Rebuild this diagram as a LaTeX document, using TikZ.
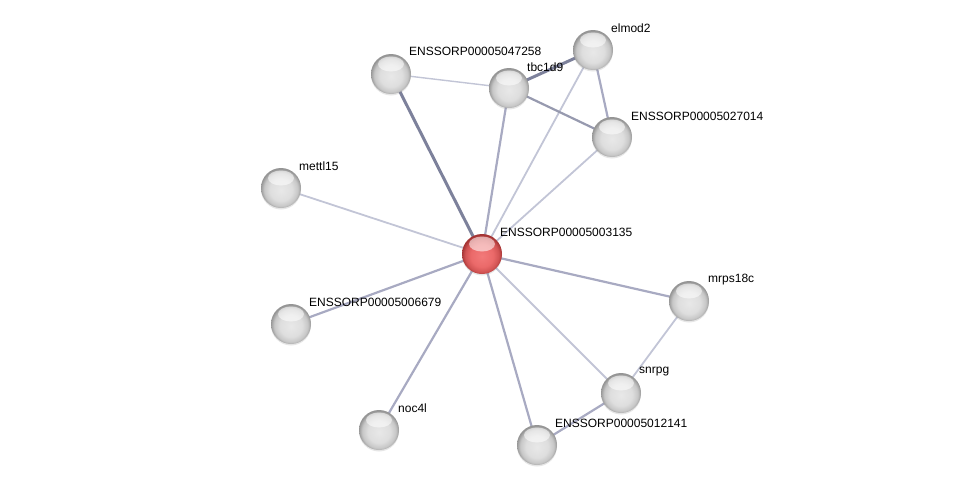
\documentclass[tikz,border=0pt]{standalone}
\usepackage{fontspec}
\setmainfont{Liberation Sans}
\usetikzlibrary{backgrounds,shadows}
\definecolor{edgedark}{RGB}{125,129,155}
\definecolor{edgemid}{RGB}{168,170,194}
\definecolor{edgelight}{RGB}{194,197,214}
\pgfdeclareradialshading{greyball}{\pgfpoint{0bp}{-3bp}}{color(0bp)=(black!9); color(14bp)=(black!13); color(21bp)=(black!22); color(25.5bp)=(black!42); color(50bp)=(black!42)}
\pgfdeclareradialshading{redball}{\pgfpoint{0bp}{-3bp}}{color(0bp)=(red!50!white!95!black); color(14bp)=(red!55!white!92!black); color(21bp)=(red!60!white!82!black); color(25.5bp)=(red!55!black!80!white); color(50bp)=(red!55!black!80!white)}
\begin{document}
\begin{tikzpicture}[x=1pt,y=-1pt,
    prot/.style={circle,minimum size=40pt,inner sep=0pt,shading=greyball,
        drop shadow={opacity=0.2,shadow xshift=0pt,shadow yshift=-1.5pt},
        path picture={\fill[white,opacity=0.55] ([yshift=10pt]path picture bounding box.center) ellipse (13pt and 7.5pt);}},
    hub/.style={prot,shading=redball},
    lbl/.style={anchor=west,inner sep=0pt,font=\fontsize{12}{14}\selectfont},
    strong/.style={draw=edgedark,line width=3pt},
    medium/.style={draw=edgemid,line width=2.2pt},
    weak/.style={draw=edgelight,line width=1.8pt}]
    \useasboundingbox (0,0) rectangle (975,490);
    % proteins
    \node[hub] (c) at (482,254) {};
    \node[prot] (p47258) at (391,74) {};
    \node[prot] (tbc) at (509,88) {};
    \node[prot] (elmod) at (593,50) {};
    \node[prot] (p27014) at (612,137) {};
    \node[prot] (mettl) at (281,188) {};
    \node[prot] (mrps) at (689,301) {};
    \node[prot] (p6679) at (291,324) {};
    \node[prot] (snrpg) at (621,393) {};
    \node[prot] (noc) at (379,430) {};
    \node[prot] (p12141) at (537,445) {};
    % names
    \node[lbl] (l47258) at (409,51) {ENSSORP00005047258};
    \node[lbl] (ltbc) at (527,67) {tbc1d9};
    \node[lbl] (lelmod) at (611,28) {elmod2};
    \node[lbl] (l27014) at (631,116) {ENSSORP00005027014};
    \node[lbl] (lmettl) at (299,166) {mettl15};
    \node[lbl] (lc) at (500,232) {ENSSORP00005003135};
    \node[lbl] (lmrps) at (708,280) {mrps18c};
    \node[lbl] (l6679) at (309,302) {ENSSORP00005006679};
    \node[lbl] (lsnrpg) at (639,372) {snrpg};
    \node[lbl] (lnoc) at (398,408) {noc4l};
    \node[lbl] (l12141) at (555,423) {ENSSORP00005012141};
    % links
    \begin{scope}[on background layer]
        \draw[strong] (c.center)--(p47258.center);
        \draw[medium] (c.center)--(tbc.center);
        \draw[weak] (c.center)--(elmod.center);
        \draw[weak] (c.center)--(p27014.center);
        \draw[weak] (c.center)--(mettl.center);
        \draw[medium] (c.center)--(p6679.center);
        \draw[medium] (c.center)--(noc.center);
        \draw[medium] (c.center)--(p12141.center);
        \draw[weak] (c.center)--(snrpg.center);
        \draw[medium] (c.center)--(mrps.center);
        \draw[weak,line width=1.4pt] (p47258.center)--(tbc.center);
        \draw[strong] (tbc.center)--(elmod.center);
        \draw[medium,draw=edgedark!80!white] (tbc.center)--(p27014.center);
        \draw[medium] (elmod.center)--(p27014.center);
        \draw[weak] (mrps.center)--(snrpg.center);
        \draw[medium] (snrpg.center)--(p12141.center);
    \end{scope}
\end{tikzpicture}
\end{document}
